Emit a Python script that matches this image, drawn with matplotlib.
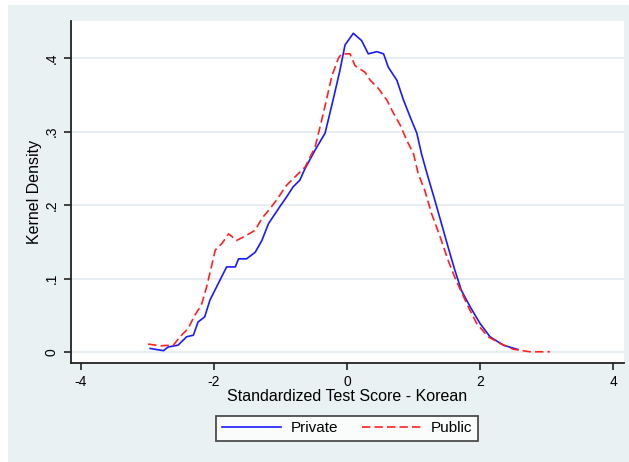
import matplotlib
matplotlib.use("Agg")
from matplotlib import pyplot as plt
from matplotlib.patches import Rectangle

plt.rcParams['font.family'] = ['Liberation Sans', 'DejaVu Sans']

# Private schools (blue, solid)
private_x = [-2.96, -2.76, -2.69, -2.54, -2.41, -2.31, -2.24, -2.14, -2.06, -1.96,
             -1.81, -1.68, -1.63, -1.51, -1.38, -1.28, -1.18, -1.01, -0.91, -0.81,
             -0.71, -0.63, -0.48, -0.33, -0.21, -0.105, -0.03, 0.095, 0.22, 0.32,
             0.45, 0.55, 0.62, 0.75, 0.85, 0.95, 1.05, 1.12, 1.20, 1.32,
             1.42, 1.52, 1.62, 1.72, 1.85, 2.0, 2.15, 2.35, 2.57]
private_y = [0.005, 0.002, 0.007, 0.0095, 0.021, 0.023, 0.041, 0.048, 0.071, 0.089,
             0.116, 0.116, 0.127, 0.127, 0.136, 0.152, 0.175, 0.198, 0.211, 0.225,
             0.234, 0.25, 0.275, 0.298, 0.343, 0.384, 0.418, 0.434, 0.424, 0.406,
             0.409, 0.406, 0.388, 0.370, 0.343, 0.320, 0.298, 0.270, 0.244, 0.207,
             0.175, 0.143, 0.112, 0.084, 0.062, 0.039, 0.021, 0.0095, 0.0036]

# Public schools (red, dashed)
public_x = [-2.99, -2.81, -2.61, -2.51, -2.39, -2.29, -2.19, -2.11, -2.04, -1.98,
            -1.88, -1.78, -1.66, -1.51, -1.38, -1.28, -1.16, -1.06, -0.91, -0.63,
            -0.48, -0.38, -0.31, -0.23, -0.13, -0.08, 0.045, 0.12, 0.27, 0.35,
            0.47, 0.60, 0.70, 0.80, 0.90, 1.0, 1.07, 1.17, 1.27, 1.40,
            1.52, 1.62, 1.80, 1.95, 2.12, 2.30, 2.50, 2.75, 3.05]
public_y = [0.011, 0.0086, 0.0095, 0.021, 0.032, 0.050, 0.064, 0.089, 0.116, 0.139,
            0.148, 0.161, 0.152, 0.159, 0.166, 0.182, 0.195, 0.207, 0.227, 0.252,
            0.279, 0.316, 0.343, 0.375, 0.400, 0.406, 0.406, 0.390, 0.381, 0.370,
            0.359, 0.343, 0.325, 0.309, 0.288, 0.270, 0.243, 0.220, 0.189, 0.157,
            0.125, 0.102, 0.066, 0.039, 0.021, 0.012, 0.004, 0.0005, 0.0005]

xticks = [-4, -2, 0, 2, 4]
yticks = [0, 0.1, 0.2, 0.3, 0.4]
ytick_labels = ["0", ".1", ".2", ".3", ".4"]

bg = "#eaf1f3"
fig = plt.figure(figsize=(6.29, 4.62), dpi=100)
fig.patch.set_facecolor("white")
fig.patches.append(Rectangle((8 / 629, 0), 1 - 8 / 629, 1 - 5 / 462,
                             transform=fig.transFigure, facecolor=bg,
                             edgecolor="none", zorder=-10))

ax = fig.add_axes([71 / 629, 1 - 362.5 / 462, (624 - 71) / 629, (362.5 - 21) / 462])
ax.set_facecolor("white")

ax.plot(private_x, private_y, color="#1a1aff", lw=1.2, label="Private")
ax.plot(public_x, public_y, color="#ff2020", lw=1.2, ls=(0, (5, 2.5)), label="Public")

ax.set_xlim(-4.15, 4.165)
ax.set_ylim(-0.0141, 0.4507)
ax.set_xticks(xticks)
ax.set_xticklabels([str(v) for v in xticks])
ax.set_yticks(yticks)
ax.set_yticklabels(ytick_labels, rotation=90, va="center")
ax.grid(axis="y", color="#e4edf1", lw=1.3)
ax.set_axisbelow(True)

for s in ["top", "right"]:
    ax.spines[s].set_visible(False)
for s in ["left", "bottom"]:
    ax.spines[s].set_color("#222222")
    ax.spines[s].set_linewidth(1.3)
ax.tick_params(direction="out", length=5, width=1.2, color="#222222",
               labelsize=10, pad=4)

ax.set_xlabel("Standardized Test Score - Korean", fontsize=11.5, labelpad=0)
ax.set_ylabel("Kernel Density", fontsize=11.5, labelpad=2)

leg = fig.legend(loc="center", bbox_to_anchor=(347 / 629, 1 - 428.5 / 462), ncol=2,
                 fontsize=11, frameon=True, fancybox=False, handlelength=3.9,
                 handletextpad=0.6, columnspacing=1.6, borderpad=0.35,
                 borderaxespad=0)
leg.get_frame().set_edgecolor("#222222")
leg.get_frame().set_linewidth(1.3)

fig.savefig("out.png", dpi=100, facecolor=fig.get_facecolor())
